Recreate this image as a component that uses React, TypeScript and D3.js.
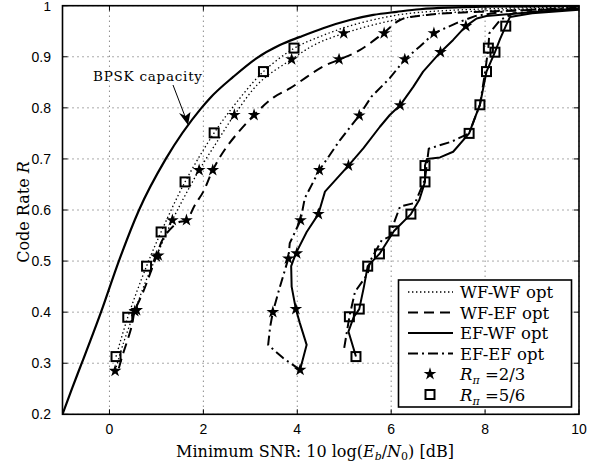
import * as d3 from "d3";

// ── layout ──
const W = 602;
const H = 464;
const plot = { left: 62.5, right: 579, top: 5.7, bottom: 414.3 };

const SERIF = "'DejaVu Serif', 'Liberation Serif', serif";
const SANS = "'Liberation Sans', Arial, sans-serif";

// ── ticks ──
const xTicks = [0, 2, 4, 6, 8, 10];
const yTicks = [0.2, 0.3, 0.4, 0.5, 0.6, 0.7, 0.8, 0.9, 1];
const yTickLabels = ["0.2", "0.3", "0.4", "0.5", "0.6", "0.7", "0.8", "0.9", "1"];

// ── curves, [Eb/N0 dB, rate] ──
const bpsk: [number, number][] = [
  [-1, 0.2], [-0.8, 0.25], [-0.59, 0.3], [-0.18, 0.4], [0.2, 0.5], [0.63, 0.6],
  [1.2, 0.7], [1.96, 0.8], [2.14, 0.819], [2.64, 0.861], [3.13, 0.897],
  [3.63, 0.923], [4.06, 0.939], [4.55, 0.956], [5.12, 0.972], [5.62, 0.982],
  [6.12, 0.988], [6.61, 0.993], [8, 0.998], [10, 0.9995],
];

const wfwf56: [number, number][] = [
  [0.14, 0.313], [0.39, 0.39], [0.79, 0.49], [1.1, 0.557], [1.61, 0.655],
  [2.23, 0.751], [2.7, 0.81], [3.28, 0.871], [3.94, 0.917], [4.5, 0.94],
  [5.0, 0.957], [5.6, 0.972], [6.3, 0.984], [7.5, 0.992], [10, 0.998],
];

const wfwf23: [number, number][] = [
  [0.12, 0.285], [0.3, 0.34], [0.54, 0.402], [0.75, 0.455], [1.0, 0.509],
  [1.34, 0.58], [1.62, 0.63], [1.91, 0.678], [2.3, 0.735], [2.66, 0.786],
  [3.2, 0.85], [3.88, 0.895], [4.4, 0.925], [5.0, 0.946], [5.6, 0.962],
  [6.3, 0.976], [7.2, 0.986], [10, 0.997],
];

const wfef23: [number, number][] = [
  [0.2, 0.29], [0.26, 0.31], [0.47, 0.371], [0.54, 0.402], [0.72, 0.44],
  [1.0, 0.509], [1.15, 0.545], [1.45, 0.575], [1.64, 0.58], [1.82, 0.61],
  [2.0, 0.636], [2.2, 0.678], [2.5, 0.724], [3.08, 0.786], [3.49, 0.82],
  [3.84, 0.838], [4.55, 0.881], [4.91, 0.895], [5.33, 0.913], [5.83, 0.946],
  [6.19, 0.972], [6.76, 0.982], [7.89, 0.988], [10, 0.994],
];

const efwf23: [number, number][] = [
  [4.06, 0.287], [4.2, 0.336], [4.05, 0.38], [3.97, 0.406], [3.88, 0.45],
  [3.87, 0.49], [3.97, 0.515], [4.2, 0.557], [4.45, 0.592], [4.59, 0.636],
  [5.09, 0.687], [5.41, 0.721], [5.76, 0.763], [5.97, 0.786], [6.19, 0.805],
  [6.47, 0.841], [6.68, 0.871], [7.05, 0.909], [7.32, 0.933], [7.59, 0.96],
  [7.82, 0.975], [8.03, 0.98], [10, 0.995],
];

const efef23: [number, number][] = [
  [4.06, 0.287], [3.7, 0.31], [3.38, 0.336], [3.42, 0.37], [3.48, 0.4],
  [3.6, 0.44], [3.81, 0.505], [3.84, 0.535], [4.07, 0.58], [4.16, 0.623],
  [4.47, 0.678], [4.91, 0.737], [5.32, 0.785], [5.58, 0.822], [5.97, 0.858],
  [6.29, 0.895], [6.61, 0.92], [6.91, 0.946], [7.39, 0.966], [7.8, 0.98],
  [8.5, 0.99], [10, 0.996],
];

const efwf56: [number, number][] = [
  [5.25, 0.313], [5.09, 0.362], [5.2, 0.39], [5.32, 0.406], [5.42, 0.45],
  [5.5, 0.49], [5.75, 0.514], [6.06, 0.559], [6.42, 0.592], [6.6, 0.62],
  [6.72, 0.655], [6.72, 0.687], [6.76, 0.7], [7.04, 0.703], [7.32, 0.714],
  [7.66, 0.75], [7.78, 0.78], [7.89, 0.806], [8.03, 0.871], [8.21, 0.909],
  [8.32, 0.935], [8.44, 0.96], [8.53, 0.978], [9, 0.985], [10, 0.992],
];

const efef56: [number, number][] = [
  [5.0, 0.33], [5.11, 0.391], [5.23, 0.44], [5.5, 0.475], [5.55, 0.5],
  [5.8, 0.541], [5.97, 0.548], [6.06, 0.575], [6.19, 0.607], [6.51, 0.614],
  [6.72, 0.66], [6.8, 0.72], [7.29, 0.734], [7.66, 0.75], [7.89, 0.806],
  [8.0, 0.87], [8.07, 0.918], [8.09, 0.946], [8.32, 0.972], [8.6, 0.985],
  [10, 0.995],
];

// ── markers ──
const stars: [number, number][] = [
  [0.12, 0.285], [0.54, 0.402], [0.58, 0.404], [1.0, 0.509], [1.04, 0.511],
  [1.34, 0.58], [1.64, 0.58], [1.91, 0.678], [2.2, 0.678], [2.66, 0.786],
  [3.08, 0.786], [3.88, 0.895], [4.89, 0.895], [4.99, 0.946], [5.85, 0.946],
  [4.06, 0.287], [3.48, 0.4], [3.97, 0.406], [3.81, 0.505], [3.99, 0.515],
  [4.07, 0.58], [4.45, 0.592], [4.47, 0.678], [5.09, 0.687], [5.32, 0.785],
  [6.19, 0.805], [6.29, 0.895], [7.05, 0.909], [6.91, 0.946], [7.59, 0.96],
];

const squares: [number, number][] = [
  [0.14, 0.313], [0.39, 0.39], [0.79, 0.49], [1.1, 0.557], [1.61, 0.655],
  [2.23, 0.751], [3.28, 0.871], [3.93, 0.917],
  [5.25, 0.313], [5.11, 0.391], [5.32, 0.406], [5.5, 0.49], [5.75, 0.514],
  [6.06, 0.559], [6.42, 0.592], [6.72, 0.655], [6.72, 0.687], [7.66, 0.75],
  [7.89, 0.806], [8.03, 0.871], [8.07, 0.917], [8.21, 0.909], [8.44, 0.96],
];

const DOT = "1.4 2.6";
const DASH = "10 6";
const DASHDOT = "10 4 2 4";

const curves = [
  { data: wfwf56, dash: DOT, w: 1.3, smooth: true },
  { data: wfwf23, dash: DOT, w: 1.3, smooth: true },
  { data: wfef23, dash: DASH, w: 2, smooth: true },
  { data: efef23, dash: DASHDOT, w: 2, smooth: false },
  { data: efwf23, dash: undefined, w: 2, smooth: false },
  { data: efef56, dash: DASHDOT, w: 2, smooth: false },
  { data: efwf56, dash: undefined, w: 2, smooth: false },
];

const legendLines = [
  { label: "WF-WF opt", dash: DOT, w: 1.3 },
  { label: "WF-EF opt", dash: DASH, w: 2 },
  { label: "EF-WF opt", dash: undefined, w: 2 },
  { label: "EF-EF opt", dash: DASHDOT, w: 2 },
];

const x = d3.scaleLinear().domain([-1, 10]).range([plot.left, plot.right]);
const y = d3.scaleLinear().domain([0.2, 1]).range([plot.bottom, plot.top]);

const line = d3.line<[number, number]>()
  .x(d => x(d[0]))
  .y(d => y(d[1]));
const smoothLine = d3.line<[number, number]>()
  .x(d => x(d[0]))
  .y(d => y(d[1]))
  .curve(d3.curveCatmullRom.alpha(0.5));
const bpskLine = d3.line<[number, number]>()
  .x(d => x(d[0]))
  .y(d => y(d[1]))
  .curve(d3.curveMonotoneX);

const starPath = d3.symbol(d3.symbolStar, 50)()!;

export default function App() {
  const lx = 398.5, ly = 280, lw = 173, lh = 127;
  const rowY = (i: number) => ly + 12 + i * 20.5;

  return (
    <svg width={W} height={H} viewBox={`0 0 ${W} ${H}`}
      style={{ position: "absolute", left: 0, top: 0, background: "#fff" }}>
      <defs>
        <clipPath id="plotclip">
          <rect x={plot.left} y={plot.top} width={plot.right - plot.left}
            height={plot.bottom - plot.top} />
        </clipPath>
      </defs>

      {/* grid */}
      {xTicks.map(t => (
        <line key={"gx" + t} x1={x(t)} x2={x(t)} y1={plot.top} y2={plot.bottom}
          stroke="#555" strokeWidth={1} strokeDasharray="1 4" />
      ))}
      {yTicks.map(t => (
        <line key={"gy" + t} x1={plot.left} x2={plot.right} y1={y(t)} y2={y(t)}
          stroke="#555" strokeWidth={1} strokeDasharray="1 4" />
      ))}

      {/* curves */}
      <g clipPath="url(#plotclip)">
        <path d={bpskLine(bpsk)!} fill="none" stroke="#000" strokeWidth={2.2} />
        {curves.map((c, i) => (
          <path key={i} d={(c.smooth ? smoothLine : line)(c.data)!} fill="none" stroke="#000"
            strokeWidth={c.w} strokeDasharray={c.dash} strokeLinejoin="round" />
        ))}
        {stars.map((p, i) => (
          <path key={"s" + i} d={starPath}
            transform={`translate(${x(p[0])},${y(p[1])})`} fill="#000" />
        ))}
        {squares.map((p, i) => (
          <rect key={"q" + i} x={x(p[0]) - 4.5} y={y(p[1]) - 4.5} width={9} height={9}
            fill="none" stroke="#000" strokeWidth={2} />
        ))}
      </g>

      {/* ticks */}
      {xTicks.map(t => (
        <g key={"tx" + t}>
          <line x1={x(t)} x2={x(t)} y1={plot.bottom} y2={plot.bottom - 5} stroke="#000" />
          <line x1={x(t)} x2={x(t)} y1={plot.top} y2={plot.top + 5} stroke="#000" />
          <text x={x(t)} y={434} textAnchor="middle" fontFamily={SANS} fontSize={14}>{t}</text>
        </g>
      ))}
      {yTicks.map((t, i) => (
        <g key={"ty" + t}>
          <line x1={plot.left} x2={plot.left + 5} y1={y(t)} y2={y(t)} stroke="#000" />
          <line x1={plot.right} x2={plot.right - 5} y1={y(t)} y2={y(t)} stroke="#000" />
          <text x={51} y={y(t) + 5} textAnchor="end" fontFamily={SANS}
            fontSize={t === 1 ? 13.5 : 14}>
            {yTickLabels[i]}
          </text>
        </g>
      ))}

      {/* axes box */}
      <rect x={plot.left} y={plot.top} width={plot.right - plot.left}
        height={plot.bottom - plot.top} fill="none" stroke="#000" strokeWidth={1.6} />

      {/* BPSK annotation */}
      <text x={93} y={81} fontFamily={SERIF} fontSize={13.5} textLength={109}>BPSK capacity</text>
      <line x1={173} y1={85} x2={186} y2={119} stroke="#000" strokeWidth={1} />
      <path d="M188,125 L179,113 L185.5,116 L190.5,112 Z" fill="#000" />

      {/* legend */}
      <rect x={lx} y={ly} width={lw} height={lh} fill="#fff" stroke="#000" strokeWidth={1.6} />
      {legendLines.map((l, i) => (
        <g key={l.label}>
          <line x1={408} x2={453} y1={rowY(i)} y2={rowY(i)} stroke="#000"
            strokeWidth={l.w} strokeDasharray={l.dash} />
          <text x={460} y={rowY(i) + 6} fontFamily={SERIF} fontSize={16.5}>{l.label}</text>
        </g>
      ))}
      <path d={starPath} transform={`translate(430,${rowY(4)})`} fill="#000" />
      <text x={460} y={rowY(4) + 6} fontFamily={SERIF} fontSize={16.5}>
        <tspan fontStyle="italic">R</tspan>
        <tspan fontSize={11} dy={4} fontStyle="italic">π</tspan>
        <tspan dy={-4}> =2/3</tspan>
      </text>
      <rect x={425.5} y={rowY(5) - 4.5} width={9} height={9} fill="none" stroke="#000" strokeWidth={2} />
      <text x={460} y={rowY(5) + 6} fontFamily={SERIF} fontSize={16.5}>
        <tspan fontStyle="italic">R</tspan>
        <tspan fontSize={11} dy={4} fontStyle="italic">π</tspan>
        <tspan dy={-4}> =5/6</tspan>
      </text>

      {/* axis labels */}
      <text x={315} y={457} textAnchor="middle" fontFamily={SERIF} fontSize={16}>
        Minimum SNR: 10 log(<tspan fontStyle="italic">E</tspan>
        <tspan fontSize={11} dy={3} fontStyle="italic">b</tspan>
        <tspan dy={-3}>/</tspan>
        <tspan fontStyle="italic">N</tspan>
        <tspan fontSize={11} dy={3}>0</tspan>
        <tspan dy={-3}>) [dB]</tspan>
      </text>
      <text transform="translate(29,212) rotate(-90)" textAnchor="middle"
        fontFamily={SERIF} fontSize={16}>
        Code Rate <tspan fontStyle="italic">R</tspan>
      </text>
    </svg>
  );
}
